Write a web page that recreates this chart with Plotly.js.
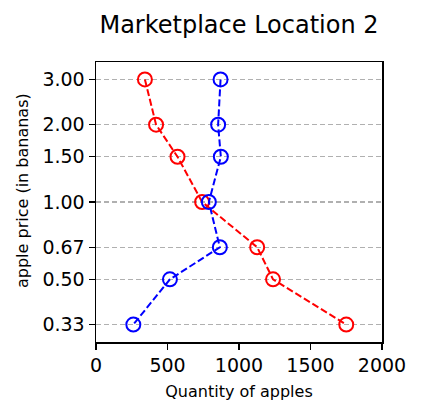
<!DOCTYPE html>
<html>
<head>
<meta charset="utf-8">
<script src="https://cdn.plot.ly/plotly-3.0.1.min.js"></script>
<style>html,body{margin:0;padding:0;background:#fff;}#chart{width:423px;height:415px;}</style>
</head>
<body>
<div id="chart"></div>
<script>
// Data
var prices = [3, 2, 1.5, 1, 2/3, 0.5, 1/3];
var priceTickLabels = ["3.00", "2.00", "1.50", "1.00", "0.67", "0.50", "0.33"];
var redQuantity = [342, 420, 570, 742, 1127, 1238, 1750];
var blueQuantity = [871, 854, 873, 789, 866, 517, 261];
var xTickVals = [0, 500, 1000, 1500, 2000];

var font = "DejaVu Sans, sans-serif";

function series(q, color) {
  return {
    x: q, y: prices, type: 'scatter', mode: 'lines+markers',
    line: {color: color, width: 2, dash: '7px,3px'},
    marker: {symbol: 'circle-open', size: 14, color: color, line: {color: color, width: 2}},
    showlegend: false, hoverinfo: 'none'
  };
}

var data = [series(redQuantity, '#ff0000'), series(blueQuantity, '#0000ff')];

var layout = {
  width: 423, height: 415,
  margin: {l: 96, r: 41, t: 62, b: 73},
  paper_bgcolor: '#ffffff', plot_bgcolor: '#ffffff',
  font: {family: font, color: '#000'},
  title: {text: 'Marketplace Location 2', font: {family: font, size: 24, color: '#000'}, x: 0.5, xref: 'paper', xanchor: 'center', y: 1, yref: 'container', yanchor: 'top', pad: {t: 16}},
  xaxis: {
    range: [0, 2000], tickvals: xTickVals, ticktext: xTickVals.map(String),
    showgrid: false, zeroline: false,
    showline: true, linecolor: '#000', linewidth: 1.5, mirror: true,
    ticks: 'outside', ticklen: 6, tickwidth: 1.3, tickcolor: '#000',
    tickfont: {family: font, size: 19, color: '#000'},
    title: {text: 'Quantity of apples', font: {family: font, size: 16, color: '#000'}, standoff: 10}
  },
  yaxis: {
    type: 'log', range: [-0.545, 0.545],
    tickvals: prices, ticktext: priceTickLabels,
    showgrid: true, gridcolor: '#b0b0b0', gridwidth: 1.3, griddash: '5px,3px',
    zeroline: false,
    showline: true, linecolor: '#000', linewidth: 1.5, mirror: true,
    ticks: 'outside', ticklen: 6, tickwidth: 1.3, tickcolor: '#000',
    tickfont: {family: font, size: 19, color: '#000'}
  },
  annotations: [{
    text: 'apple price (in bananas)', textangle: -90, showarrow: false,
    xref: 'paper', yref: 'paper', x: (22 - 96) / 286, y: (342 - 191) / 280,
    xanchor: 'center', yanchor: 'middle',
    font: {family: font, size: 16, color: '#000'}
  }]
};

Plotly.newPlot('chart', data, layout, {staticPlot: true, displayModeBar: false});
</script>
</body>
</html>
